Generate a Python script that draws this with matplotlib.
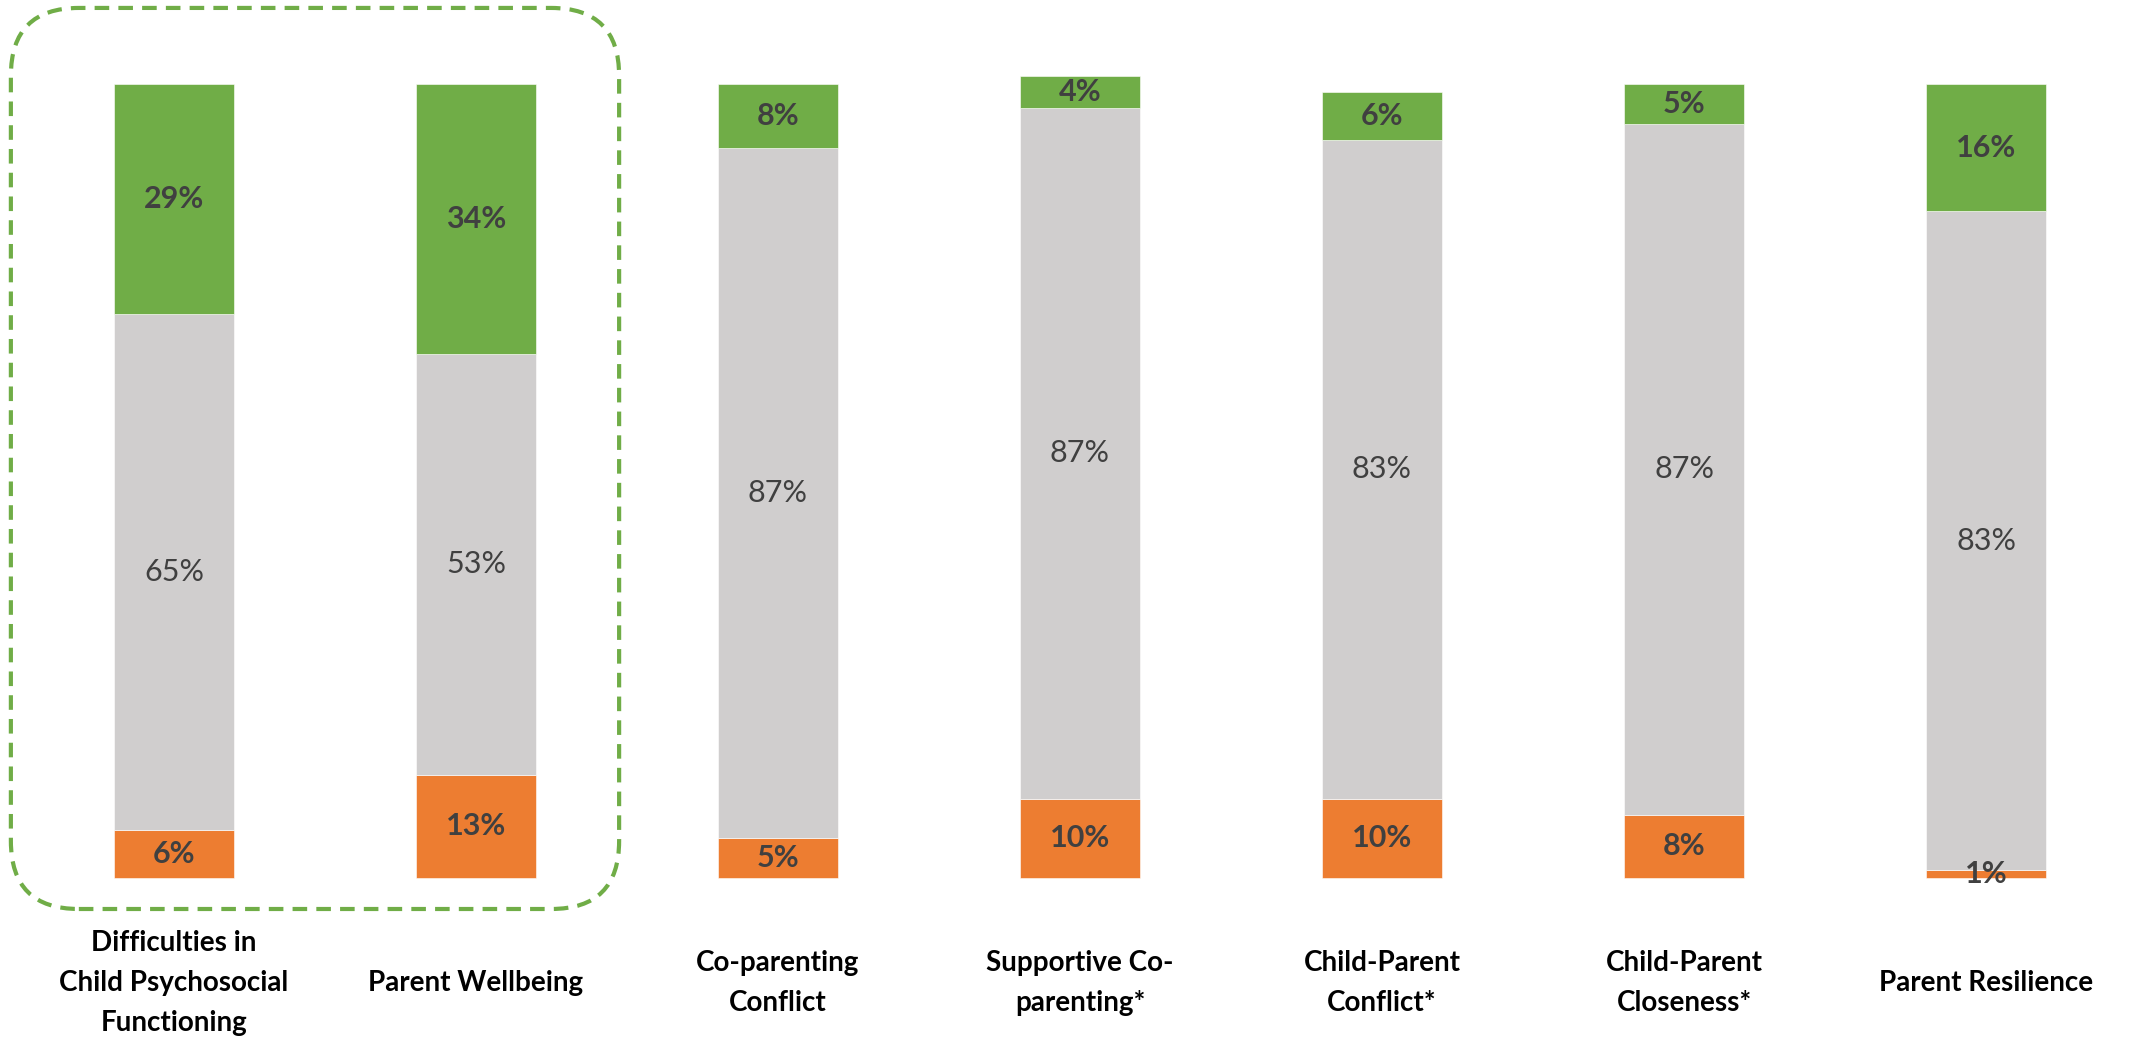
import numpy as np
import matplotlib; matplotlib.use('Agg')
import matplotlib.pyplot as plt
from matplotlib.patches import FancyBboxPatch

plt.rcParams['font.family'] = ['Lato', 'DejaVu Sans']

categories = ['Difficulties in\nChild Psychosocial\nFunctioning', 'Parent Wellbeing',
              'Co-parenting\nConflict', 'Supportive Co-\nparenting*',
              'Child-Parent\nConflict*', 'Child-Parent\nCloseness*', 'Parent Resilience']
worse = [6, 13, 5, 10, 10, 8, 1]        # orange
same = [65, 53, 87, 87, 83, 87, 83]     # grey
better = [29, 34, 8, 4, 6, 5, 16]       # green

GREEN, GREY, ORANGE, TXT = '#70AD47', '#D0CECE', '#ED7D31', '#404040'

fig = plt.figure(figsize=(21.34, 10.38), dpi=100)
ax = fig.add_axes([0, 0, 1, 1])
x = np.arange(len(categories))
w = 0.40

worse_a, same_a, better_a = map(np.array, (worse, same, better))
ax.bar(x, worse_a, w, color=ORANGE, edgecolor='white', lw=0.4)
ax.bar(x, same_a, w, bottom=worse_a, color=GREY, edgecolor='white', lw=0.4)
ax.bar(x, better_a, w, bottom=worse_a + same_a, color=GREEN, edgecolor='white', lw=0.4)

for i in x:
    ax.text(i, worse_a[i] / 2, f'{worse_a[i]}%', ha='center', va='center',
            fontsize=22, fontweight='bold', color=TXT)
    ax.text(i, worse_a[i] + same_a[i] / 2, f'{same_a[i]}%', ha='center', va='center',
            fontsize=22, color=TXT)
    ax.text(i, worse_a[i] + same_a[i] + better_a[i] / 2, f'{better_a[i]}%',
            ha='center', va='center', fontsize=22, fontweight='bold', color=TXT)
    ax.text(i, -13.2, categories[i], ha='center', va='center', fontsize=20,
            fontweight='bold', color='black', linespacing=1.68)

# dashed highlight round the first two bars
box = FancyBboxPatch((-0.54, -3.9), 1.474 + 0.54, 109.6 + 3.9,
                     boxstyle='round,pad=0,rounding_size=0.225',
                     mutation_aspect=38.0, fill=False, edgecolor=GREEN,
                     lw=3.0, linestyle=(0, (3.5, 2.2)), clip_on=False)
ax.add_patch(box)

ax.set_xlim(-0.576, 6.49)
ax.set_ylim(-20.15, 110.6)
ax.axis('off')

plt.savefig('out.png', dpi=100, facecolor='white')
plt.close()
